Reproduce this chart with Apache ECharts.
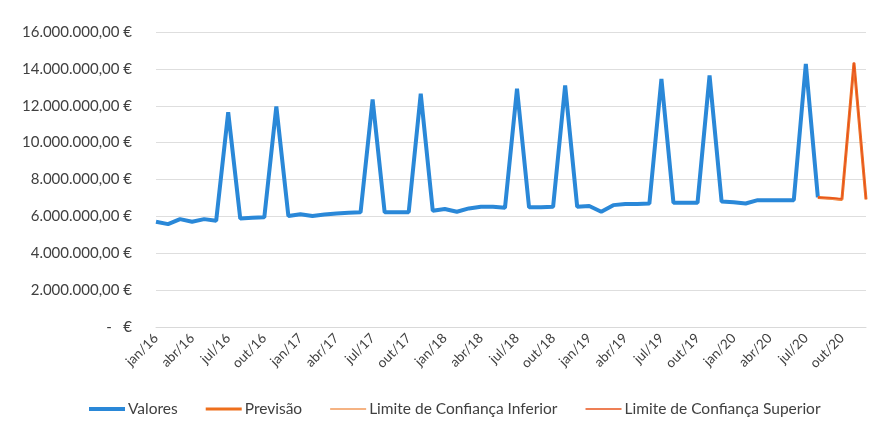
<!DOCTYPE html>
<html>
<head>
<meta charset="utf-8">
<script src="https://cdn.jsdelivr.net/npm/echarts@6/dist/echarts.min.js"></script>
<style>
  html, body { margin: 0; padding: 0; background: #fff; }
  #chart { width: 883px; height: 434px; }
</style>
</head>
<body>
<div id="chart"></div>
<script>
// meses jan/16 .. dez/20
var meses = ['jan','fev','mar','abr','mai','jun','jul','ago','set','out','nov','dez'];
var anos = ['16','17','18','19','20'];
var categorias = [];
anos.forEach(function (a) {
  meses.forEach(function (m) { categorias.push(m + '/' + a); });
});

// valores observados (jan/16 .. ago/20), em euros
var valores = [
  5710000, 5580000, 5850000, 5710000, 5850000, 5760000, 11650000, 5890000, 5920000, 5950000, 11960000, 6020000,
  6120000, 6020000, 6100000, 6160000, 6200000, 6220000, 12340000, 6220000, 6230000, 6230000, 12650000, 6300000,
  6400000, 6250000, 6430000, 6520000, 6520000, 6470000, 12920000, 6490000, 6490000, 6520000, 13100000, 6520000,
  6560000, 6250000, 6610000, 6670000, 6670000, 6700000, 13460000, 6740000, 6740000, 6740000, 13640000, 6810000,
  6760000, 6700000, 6880000, 6880000, 6870000, 6880000, 14270000, 7030000
];

// previsão (ago/20 .. dez/20)
var previsao = [7030000, 6980000, 6920000, 14330000, 6920000];
var limiteInferior = [7030000, 6960000, 6900000, 14300000, 6900000];
var limiteSuperior = [7030000, 7000000, 6940000, 14360000, 6940000];

function comPrefixo(arr) {
  var out = [];
  for (var i = 0; i < valores.length - 1; i++) out.push(null);
  return out.concat(arr);
}

function formatEuro(v) {
  if (v === 0) return '-   €';
  var s = Math.round(v).toString().replace(/\B(?=(\d{3})+(?!\d))/g, '.');
  return s + ',00 €';
}

// ícone da legenda: traço horizontal com espessura t
function traco(t) {
  return 'path://M0,0 H36 V' + t + ' H0 Z';
}

var chart = echarts.init(document.getElementById('chart'));
var option = {
  animation: false,
  textStyle: { fontFamily: 'Lato' },
  grid: { left: 156, right: 17, top: 32, bottom: 107, containLabel: false },
  legend: {
    bottom: 12,
    left: 84,
    itemWidth: 36,
    itemHeight: 10,
    itemGap: 28,
    textStyle: { fontSize: 15.5, color: '#404040', fontFamily: 'Lato', padding: [0, 0, 0, -2] },
    data: [
      { name: 'Valores', icon: traco(4) },
      { name: 'Previsão', icon: traco(3) },
      { name: 'Limite de Confiança Inferior', icon: traco(1.4) },
      { name: 'Limite de Confiança Superior', icon: traco(1.6) }
    ]
  },
  xAxis: {
    type: 'category',
    data: categorias,
    boundaryGap: false,
    axisLine: { lineStyle: { color: '#d9d9d9' } },
    axisTick: { show: false },
    axisLabel: {
      interval: 2,
      rotate: 45,
      fontSize: 13.5,
      color: '#404040',
      margin: 9
    }
  },
  yAxis: {
    type: 'value',
    min: 0,
    max: 16000000,
    interval: 2000000,
    axisLine: { show: false },
    axisTick: { show: false },
    splitLine: { lineStyle: { color: '#dedede' } },
    axisLabel: {
      fontSize: 15,
      color: '#404040',
      margin: 24,
      formatter: formatEuro
    }
  },
  series: [
    {
      name: 'Valores',
      type: 'line',
      data: valores,
      symbol: 'none',
      lineStyle: { width: 4, color: '#2a88d8' },
      itemStyle: { color: '#2a88d8' },
      z: 3
    },
    {
      name: 'Previsão',
      type: 'line',
      data: comPrefixo(previsao),
      symbol: 'none',
      lineStyle: { width: 3, color: '#ee6f1c' },
      itemStyle: { color: '#ee6f1c' },
      z: 4
    },
    {
      name: 'Limite de Confiança Inferior',
      type: 'line',
      data: comPrefixo(limiteInferior),
      symbol: 'none',
      lineStyle: { width: 1.5, color: '#f29a5a' },
      itemStyle: { color: '#f29a5a' },
      z: 5
    },
    {
      name: 'Limite de Confiança Superior',
      type: 'line',
      data: comPrefixo(limiteSuperior),
      symbol: 'none',
      lineStyle: { width: 1.5, color: '#e8541c' },
      itemStyle: { color: '#e8541c' },
      z: 5
    }
  ]
};
chart.setOption(option);
</script>
</body>
</html>
